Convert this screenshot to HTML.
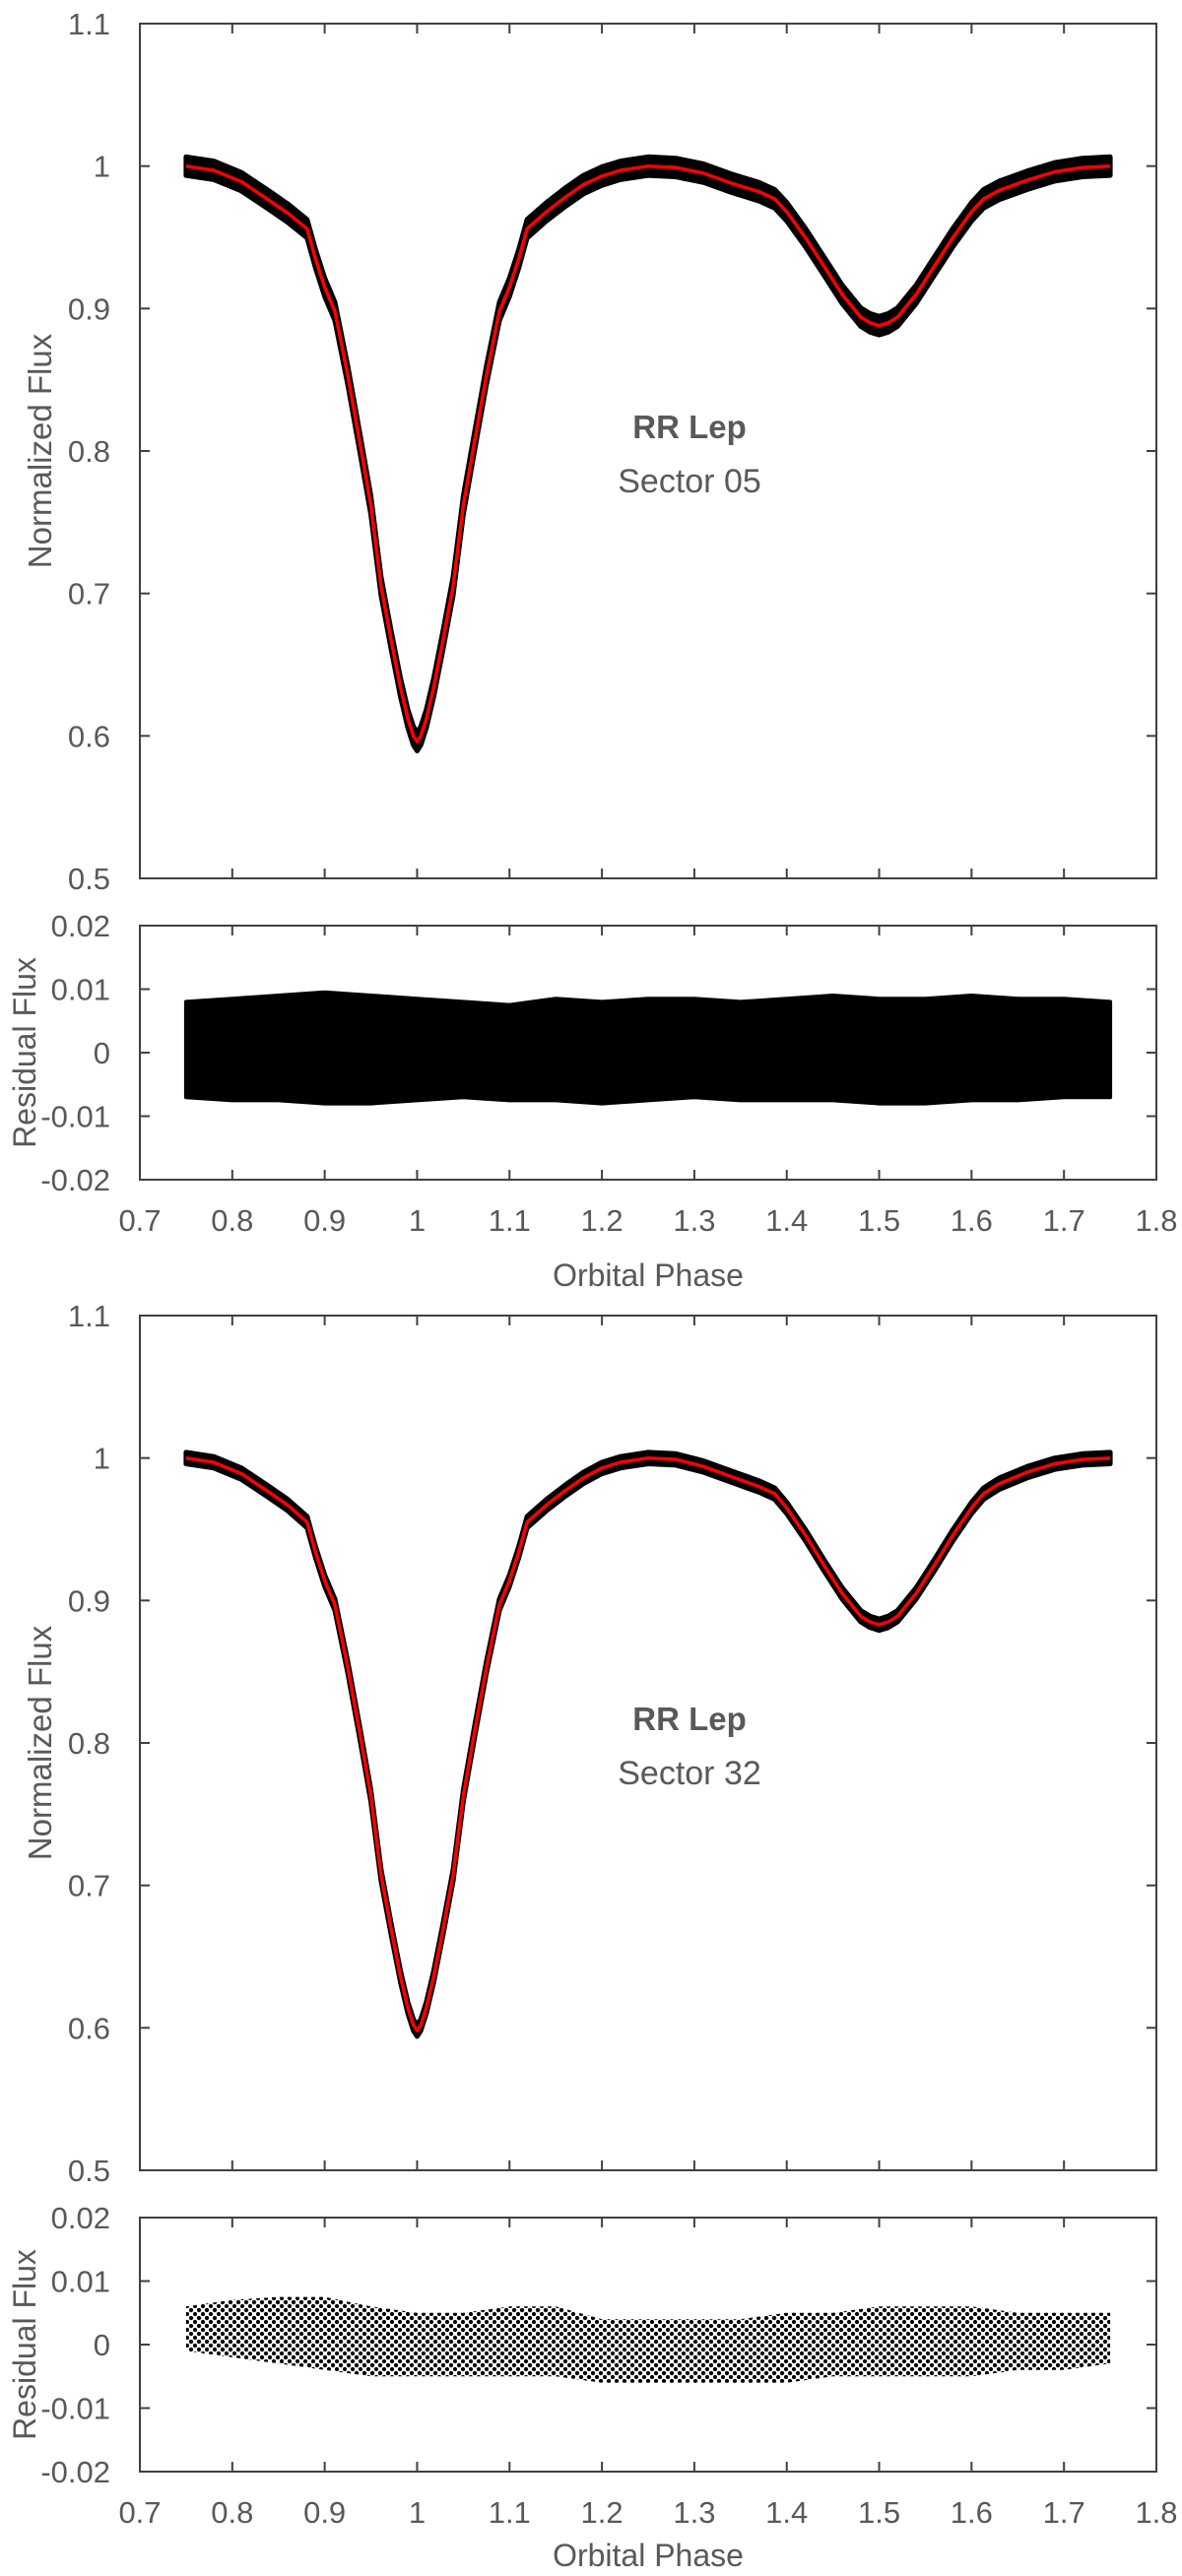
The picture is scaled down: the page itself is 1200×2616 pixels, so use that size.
<!DOCTYPE html>
<html><head><meta charset="utf-8"><style>
html,body{margin:0;padding:0;background:#fff;}
svg{display:block;}
text{font-family:"Liberation Sans",sans-serif;fill:#595959;}
</style></head><body>
<svg id="chart" width="1200" height="2616" viewBox="0 0 1200 2616" xmlns="http://www.w3.org/2000/svg">
<defs>
<pattern id="dotpat" width="8" height="8" patternUnits="userSpaceOnUse">
<circle cx="2" cy="2" r="2.2" fill="#000"/><circle cx="6" cy="6" r="2.1" fill="#000"/>
</pattern>
</defs>
</svg>
<script>
// ---- data ----
const modelPhase = [0.75,0.78,0.81,0.84,0.86,0.881,0.89,0.90,0.911,0.925,0.938,0.95,0.961,0.972,0.982,0.99,0.996,1.0,1.004,1.01,1.018,1.028,1.039,1.05,1.062,1.075,1.089,1.10,1.11,1.119,1.14,1.16,1.18,1.2,1.22,1.25,1.28,1.31,1.34,1.37,1.387,1.40,1.42,1.44,1.46,1.48,1.49,1.5,1.51,1.52,1.54,1.56,1.58,1.60,1.613,1.63,1.66,1.69,1.72,1.75];
const fluxS05 = [1.0,0.997,0.989,0.976,0.967,0.956,0.935,0.915,0.898,0.853,0.806,0.762,0.705,0.667,0.634,0.612,0.600,0.596,0.600,0.612,0.634,0.667,0.705,0.762,0.806,0.853,0.898,0.915,0.935,0.956,0.968,0.978,0.987,0.993,0.997,1.0,0.999,0.995,0.988,0.982,0.977,0.968,0.950,0.930,0.910,0.894,0.890,0.888,0.890,0.894,0.910,0.930,0.950,0.968,0.977,0.983,0.990,0.996,0.999,1.0];
const fluxS32 = [1.0,0.997,0.989,0.976,0.967,0.955,0.934,0.914,0.897,0.853,0.807,0.763,0.707,0.669,0.636,0.614,0.602,0.598,0.602,0.614,0.636,0.669,0.707,0.763,0.807,0.853,0.897,0.914,0.934,0.955,0.967,0.977,0.986,0.993,0.997,1.0,0.999,0.994,0.987,0.980,0.975,0.965,0.946,0.925,0.905,0.889,0.885,0.883,0.885,0.889,0.905,0.925,0.946,0.965,0.975,0.982,0.990,0.996,0.999,1.0];
const residPhase = [0.75,0.8,0.85,0.9,0.95,1.0,1.05,1.1,1.15,1.2,1.25,1.3,1.35,1.4,1.45,1.5,1.55,1.6,1.65,1.7,1.75];
const residUpS05 = [0.008,0.0085,0.009,0.0095,0.009,0.0085,0.008,0.0075,0.0085,0.008,0.0085,0.0085,0.008,0.0085,0.009,0.0085,0.0085,0.009,0.0085,0.0085,0.008];
const residLoS05 = [-0.007,-0.0075,-0.0075,-0.008,-0.008,-0.0075,-0.007,-0.0075,-0.0075,-0.008,-0.0075,-0.007,-0.0075,-0.0075,-0.0075,-0.008,-0.008,-0.0075,-0.0075,-0.007,-0.007];
const residUpS32 = [0.006,0.007,0.0075,0.0075,0.006,0.005,0.005,0.006,0.006,0.004,0.004,0.004,0.004,0.005,0.005,0.006,0.006,0.006,0.005,0.005,0.005];
const residLoS32 = [-0.001,-0.002,-0.003,-0.004,-0.005,-0.005,-0.005,-0.005,-0.005,-0.006,-0.006,-0.006,-0.006,-0.006,-0.005,-0.005,-0.005,-0.005,-0.004,-0.004,-0.003];
const noiseS05 = 0.0065;
const noiseS32 = 0.004;
const xTicks = [0.7,0.8,0.9,1.0,1.1,1.2,1.3,1.4,1.5,1.6,1.7,1.8];
const xTickLabels = ["0.7","0.8","0.9","1","1.1","1.2","1.3","1.4","1.5","1.6","1.7","1.8"];
const fluxTicks = [0.5,0.6,0.7,0.8,0.9,1.0,1.1];
const fluxTickLabels = ["0.5","0.6","0.7","0.8","0.9","1","1.1"];
const residTicks = [-0.02,-0.01,0,0.01,0.02];
const residTickLabels = ["-0.02","-0.01","0","0.01","0.02"];
const sectors = ["05","32"];

const NS = "http://www.w3.org/2000/svg";
const svg = document.getElementById('chart');
const X0 = 142, X1 = 1174;
function xs(p){ return X0 + (p-0.7)/(1.1)*(X1-X0); }
function mk(tag, attrs, parent){ const e=document.createElementNS(NS,tag); for(const k in attrs) e.setAttribute(k,attrs[k]); (parent||svg).appendChild(e); return e; }
const FS = 31;

function panel(oy, idx, flux, up, lo, noise, dotted){
  const g = mk('g',{});
  
  
  const T=24+oy, B=892+oy;
  const fy = v => T + (1.1-v)/0.6*(B-T);
  const RT=940+oy, RB=1198+oy;
  const ry = v => RT + (0.02-v)/0.04*(RB-RT);
  const ax = {stroke:'#404040','stroke-width':2,fill:'none'};
  const box = mk('rect',Object.assign({x:X0,y:T,width:X1-X0,height:B-T},ax),g);
  
  
  const rbox = mk('rect',Object.assign({x:X0,y:RT,width:X1-X0,height:RB-RT},ax),g);
  
  
  xTicks.forEach((t,i)=>{
    const x=xs(t);
    [[T,T+10],[B,B-10],[RT,RT+10],[RB,RB-10]].forEach(([a,b])=>{ const l=mk('line',Object.assign({x1:x,x2:x,y1:a,y2:b},ax),g);   });
    const tx=mk('text',{x:x,y:RB+52,'font-size':FS,'text-anchor':'middle'},g);
    tx.textContent=xTickLabels[i];
    
    
  });
  fluxTicks.forEach((t,i)=>{
    const y=fy(t);
    [[X0,X0+10],[X1,X1-10]].forEach(([a,b])=>{ const l=mk('line',Object.assign({x1:a,x2:b,y1:y,y2:y},ax),g);   });
    const tx=mk('text',{x:112,y:y+11,'font-size':FS,'text-anchor':'end'},g);
    tx.textContent=fluxTickLabels[i];
    
    
  });
  residTicks.forEach((t,i)=>{
    const y=ry(t);
    [[X0,X0+10],[X1,X1-10]].forEach(([a,b])=>{ const l=mk('line',Object.assign({x1:a,x2:b,y1:y,y2:y},ax),g);   });
    const tx=mk('text',{x:112,y:y+11,'font-size':FS,'text-anchor':'end'},g);
    tx.textContent=residTickLabels[i];
    
    
  });
  const yt=mk('text',{x:0,y:0,'font-size':33,'text-anchor':'middle',transform:`translate(52,${(T+B)/2}) rotate(-90)`},g);
  yt.textContent='Normalized Flux';
  
  
  const rt=mk('text',{x:0,y:0,'font-size':32,'text-anchor':'middle',transform:`translate(36,${(RT+RB)/2}) rotate(-90)`},g);
  rt.textContent='Residual Flux';
  
  
  const xt=mk('text',{x:(X0+X1)/2,y:Math.min(RB+108,2606),'font-size':32,'text-anchor':'middle'},g);
  xt.textContent='Orbital Phase';
  
  
  const a1=mk('text',{x:700,y:445+oy,'font-size':33,'font-weight':'bold','text-anchor':'middle'},g);
  a1.textContent='RR Lep';
  
  
  const a2=mk('text',{x:700,y:500+oy,'font-size':34,'text-anchor':'middle'},g);
  a2.textContent='Sector '+sectors[idx];
  
  
  const upB = modelPhase.map((p,i)=>xs(p).toFixed(1)+','+fy(flux[i]+noise).toFixed(1));
  const loB = modelPhase.map((p,i)=>xs(p).toFixed(1)+','+fy(flux[i]-noise).toFixed(1)).reverse();
  const band=mk('polygon',{points:upB.concat(loB).join(' '),fill:'#000',stroke:'#000','stroke-width':5,'stroke-linejoin':'round'},g);
  
  
  const pts = modelPhase.map((p,i)=>xs(p).toFixed(1)+','+fy(flux[i]).toFixed(1)).join(' ');
  const model=mk('polyline',{points:pts,fill:'none',stroke:'#ff0000','stroke-width':3.5,'stroke-linejoin':'round'},g);
  
  
  const upPts = residPhase.map((p,i)=>xs(p).toFixed(1)+','+ry(up[i]).toFixed(1));
  const loPts = residPhase.map((p,i)=>xs(p).toFixed(1)+','+ry(lo[i]).toFixed(1)).reverse();
  const rb=mk('polygon',{points:upPts.concat(loPts).join(' '),fill:dotted?'url(#dotpat)':'#000',stroke:dotted?'none':'#000','stroke-width':dotted?0:4,'stroke-linejoin':'round'},g);
  
  
}
panel(0,0,fluxS05,residUpS05,residLoS05,noiseS05,false);
panel(1312,1,fluxS32,residUpS32,residLoS32,noiseS32,true);
</script>
</body></html>
